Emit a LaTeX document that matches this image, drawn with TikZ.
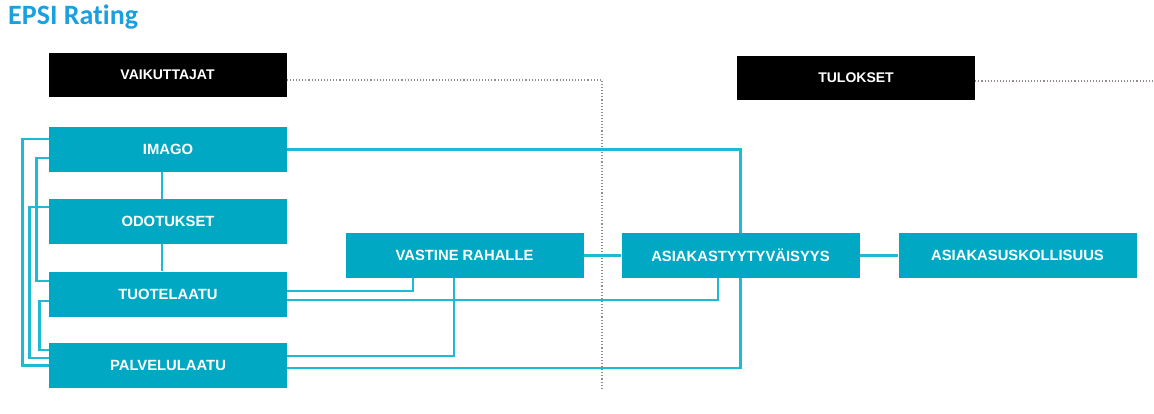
\documentclass[tikz,border=0pt]{standalone}
\usepackage{fontspec}
\setmainfont{Liberation Sans}
\newfontfamily\titlefont[Ligatures=NoCommon]{Carlito}
\usepackage{tikz}
\usetikzlibrary{positioning}
\definecolor{epsiblue}{RGB}{25,160,225}
\definecolor{boxcyan}{RGB}{0,168,196}
\definecolor{linecyan}{RGB}{30,186,212}
\definecolor{sepgray}{RGB}{150,140,135}
\begin{document}
\begin{tikzpicture}[x=1pt,y=-1pt]
\tikzstyle{every node}+=[inner sep=0pt]
\tikzstyle{box}=[fill=boxcyan,text=white,minimum width=238pt,minimum height=45pt,font=\fontsize{14.8}{17}\selectfont\bfseries]
\tikzstyle{head}=[fill=black,text=white,minimum width=238pt,minimum height=44pt,font=\fontsize{14}{17}\selectfont\bfseries]
\tikzstyle{link}=[linecyan,line width=2.8pt]
\tikzstyle{sep}=[sepgray,line width=1.1pt,dotted]
\useasboundingbox (0,0) rectangle (1154,414);
\node[anchor=base west,text=epsiblue,font=\titlefont\fontsize{28}{30}\selectfont\bfseries] (title) at (8,25) {EPSI Rating};
\node[head] (vaik) at (167.5,75) {VAIKUTTAJAT};
\node[head] (tul) at (856,78) {TULOKSET};
\coordinate (split) at (602,390);
\coordinate (edge) at (1154,81);
\draw[sep] ([yshift=-5pt]vaik.east) -| (split);
\draw[sep] ([yshift=-3pt]tul.east) -- (edge);
\node[box] (imago) at (168,149.5) {IMAGO};
\node[box] (odot) at (168,221.5) {ODOTUKSET};
\node[box] (tuote) at (168,294) {TUOTELAATU};
\node[box] (palvelu) at (168,365.5) {PALVELULAATU};
\node[box] (vastine) at (464.5,255.5) {VASTINE RAHALLE};
\node[box] (tyyt) at (740.5,255.5) {ASIAKASTYYTYVÄISYYS};
\node[box] (usk) at (1017.5,255.5) {ASIAKASUSKOLLISUUS};
\draw[link] ([xshift=-6pt]imago.south) -- ([xshift=-6pt]odot.north);
\draw[link] ([xshift=-6pt]odot.south) -- ([xshift=-6pt]tuote.north);
\draw[link] ([yshift=10.5pt]imago.west) -- ++(-26,0) |- (palvelu.west);
\draw[link] ([yshift=-8.5pt]imago.west) -- ++(-12,0) |- ([yshift=13pt]tuote.west);
\draw[link] ([yshift=14.5pt]odot.west) -- ++(-19,0) |- ([yshift=7.5pt]palvelu.west);
\draw[link] ([yshift=-7pt]tuote.west) -- ++(-9,0) |- ([yshift=15.5pt]palvelu.west);
\draw[link] (imago.east) -| (tyyt.north);
\draw[link] ([yshift=3pt]tuote.east) -| ([xshift=-51.5pt]vastine.south);
\draw[link] ([yshift=-6pt]tuote.east) -| ([xshift=-22.5pt]tyyt.south);
\draw[link] ([yshift=9.5pt]palvelu.east) -| ([xshift=-10.5pt]vastine.south);
\draw[link] ([yshift=-2.5pt]palvelu.east) -| (tyyt.south);
\draw[link] (vastine.east) -- (tyyt.west);
\draw[link] (tyyt.east) -- (usk.west);
\end{tikzpicture}
\end{document}
